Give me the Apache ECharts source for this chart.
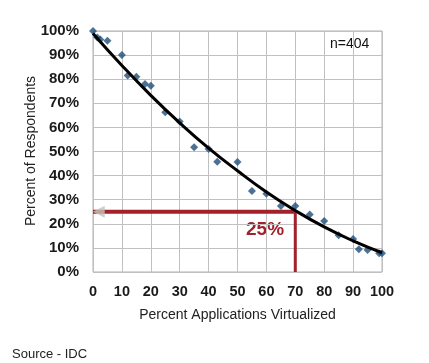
<!DOCTYPE html>
<html><head><meta charset="utf-8">
<script src="https://cdn.jsdelivr.net/npm/echarts@6/dist/echarts.min.js"></script>
<style>html,body{margin:0;padding:0;background:#fff}#c{width:429px;height:363px}</style>
</head><body><div id="c"></div>
<script>
var xTicks = [0,10,20,30,40,50,60,70,80,90,100];
var yTicks = ['0%','10%','20%','30%','40%','50%','60%','70%','80%','90%','100%'];
var ptX = [0,1.5,2.5,5,10,12,15,18,20,25,30,35,40,43,50,55,60,65,70,75,80,85,90,92,95,99,100];
var ptY = [100,97.3,96.5,96,90,81.5,81,78,77.3,66.3,62.4,51.8,51,45.7,45.6,33.6,32.5,27.4,27.4,23.9,21.2,15.2,13.7,9.4,9.1,7.8,7.8];
var trendX = [0,10,20,30,40,50,60,70,80,90,100];
var trendY = [99,85.7,73.3,61.9,51.4,42,33.2,25.5,18.7,12.9,8];
var markX = 70, markY = 25;
var F = 'Liberation Sans, Arial, sans-serif';
var red = '#a3212b';
var chart = echarts.init(document.getElementById('c'));
chart.setOption({
  animation:false,
  grid:{left:93,right:47,top:31,bottom:91,show:true,borderColor:'#b0b0b0',borderWidth:1},
  xAxis:{type:'value',min:0,max:100,interval:10,
    axisLine:{show:false},axisTick:{show:false},
    splitLine:{show:true,lineStyle:{color:'#c0c0c0',width:1}},
    axisLabel:{fontFamily:F,fontSize:14.5,fontWeight:'bold',color:'#1a1a1a',margin:12},
    name:'Percent Applications Virtualized',nameLocation:'middle',nameGap:36,
    nameTextStyle:{fontFamily:F,fontSize:14,color:'#222'}},
  yAxis:{type:'value',min:0,max:100,interval:10,
    axisLine:{show:false},axisTick:{show:false},
    splitLine:{show:true,lineStyle:{color:'#c0c0c0',width:1}},
    axisLabel:{fontFamily:F,fontSize:15,fontWeight:'bold',color:'#1a1a1a',margin:14,formatter:function(v){return yTicks[Math.round(v/10)];}}},
  series:[
    {type:'line',data:[[markX,markY],[0,markY]],symbol:'none',lineStyle:{color:red,width:4},z:3},
    {type:'line',data:[[markX,markY],[markX,0]],symbol:'none',lineStyle:{color:red,width:3},z:3},
    {type:'scatter',data:[[2,markY]],symbol:'triangle',symbolRotate:90,symbolSize:[12,12],itemStyle:{color:'#c4c4bc'},z:4},
    {type:'scatter',data:ptX.map(function(x,i){return [x,ptY[i]];}),symbol:'diamond',symbolSize:8,itemStyle:{color:'#1f4e7a'},z:5},
    {type:'line',data:trendX.map(function(x,i){return [x,trendY[i]];}),smooth:true,symbol:'none',lineStyle:{color:'#000',width:3},z:6}
  ],
  graphic:[
    {type:'text',x:31,y:151,rotation:Math.PI/2,style:{text:'Percent of Respondents',font:'14px '+F,fill:'#222',align:'center',verticalAlign:'middle'}},
    {type:'text',left:330,top:37,style:{text:'n=404',font:'14px '+F,fill:'#111'}},
    {type:'text',left:246,top:220,style:{text:'25%',font:'bold 19px '+F,fill:red}},
    {type:'text',left:12,top:348,style:{text:'Source - IDC',font:'13px '+F,fill:'#222'}}
  ]
});
</script></body></html>
